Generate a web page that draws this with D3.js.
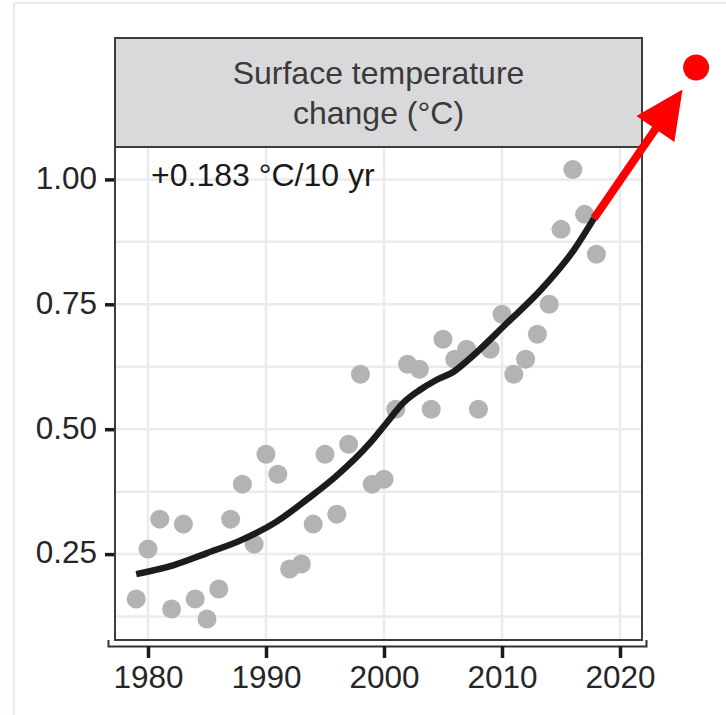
<!DOCTYPE html>
<html>
<head>
<meta charset="utf-8">
<script src="https://cdn.jsdelivr.net/npm/d3@7"></script>
<style>
  html, body { margin: 0; padding: 0; background: #fff; }
  svg { display: block; }
  text { font-family: "Liberation Sans", Arial, Helvetica, sans-serif; }
</style>
</head>
<body>
<svg id="chart" width="726" height="715"></svg>
<script>
// ---- data ----
const years = [1979,1980,1981,1982,1983,1984,1985,1986,1987,1988,1989,1990,1991,1992,1993,1994,1995,1996,1997,1998,
               1999,2000,2001,2002,2003,2004,2005,2006,2007,2008,2009,2010,2011,2012,2013,2014,2015,2016,2017,2018];
const anomalies = [0.16,0.26,0.32,0.14,0.31,0.16,0.12,0.18,0.32,0.39,0.27,0.45,0.41,0.22,0.23,0.31,0.45,0.33,0.47,0.61,
                   0.39,0.40,0.54,0.63,0.62,0.54,0.68,0.64,0.66,0.54,0.66,0.73,0.61,0.64,0.69,0.75,0.90,1.02,0.93,0.85];
const smoothYears  = [1979.0,1982.2,1985.0,1987.9,1990.9,1993.5,1995.9,1998.8,2000.2,2001.6,2003.0,2004.4,2005.9,2007.3,2010.4,2013.3,2016.1,2017.8];
const smoothValues = [0.210,0.228,0.252,0.278,0.315,0.360,0.405,0.472,0.512,0.552,0.578,0.598,0.615,0.642,0.712,0.779,0.859,0.922];
const xTicks = [1980,1990,2000,2010,2020];
const yTicks = [0.25,0.50,0.75,1.00];
const yGrid  = [0.125,0.25,0.375,0.5,0.625,0.75,0.875,1.0];
const stripLines = ["Surface temperature", "change (°C)"];
const trendLabel = "+0.183 °C/10 yr";
const arrowStart = {year: 2017.8, value: 0.922};
const arrowTip   = {year: 2025.3, value: 1.180};
const projectionDot = {year: 2026.45, value: 1.224};

// ---- layout ----
const panel = {left: 115, right: 642, top: 147, bottom: 640};
const strip = {top: 38, bottom: 147};

const svg = d3.select("#chart");

const x = d3.scaleLinear().domain([1980, 2020]).range([148, 620]);
const y = d3.scaleLinear().domain([0, 1]).range([679, 179.4]);

// outer light frame
svg.append("rect").attr("x", 14).attr("y", 3).attr("width", 760).attr("height", 760)
  .attr("fill", "none").attr("stroke", "#dce7f5").attr("stroke-width", 1.5);

// panel background
svg.append("rect").attr("x", panel.left).attr("y", panel.top)
  .attr("width", panel.right - panel.left).attr("height", panel.bottom - panel.top)
  .attr("fill", "#fff");

// grid
const grid = svg.append("g");
grid.selectAll("line.h").data(yGrid).join("line")
  .attr("x1", panel.left).attr("x2", panel.right)
  .attr("y1", d => y(d)).attr("y2", d => y(d))
  .attr("stroke", "#ebebeb").attr("stroke-width", 2.5);
grid.selectAll("line.v").data(xTicks).join("line")
  .attr("y1", panel.top).attr("y2", panel.bottom)
  .attr("x1", d => x(d)).attr("x2", d => x(d))
  .attr("stroke", "#ebebeb").attr("stroke-width", 2.5);

// points
svg.append("g").selectAll("circle").data(years.map((yr, i) => ({yr, v: anomalies[i]}))).join("circle")
  .attr("cx", d => x(d.yr)).attr("cy", d => y(d.v)).attr("r", 9.5)
  .attr("fill", "#b3b3b3");

// smooth line
const line = d3.line().x(d => x(d[0])).y(d => y(d[1])).curve(d3.curveMonotoneX);
svg.append("path").datum(smoothYears.map((yr, i) => [yr, smoothValues[i]]))
  .attr("d", line).attr("fill", "none").attr("stroke", "#1c1c1c")
  .attr("stroke-width", 6.5).attr("stroke-linecap", "butt");

// panel border
svg.append("rect").attr("x", panel.left).attr("y", panel.top)
  .attr("width", panel.right - panel.left).attr("height", panel.bottom - panel.top)
  .attr("fill", "none").attr("stroke", "#3d3d3d").attr("stroke-width", 2);

// strip
svg.append("rect").attr("x", panel.left).attr("y", strip.top)
  .attr("width", panel.right - panel.left).attr("height", strip.bottom - strip.top)
  .attr("fill", "#d9d9db").attr("stroke", "#3d3d3d").attr("stroke-width", 2);
svg.append("g").selectAll("text").data(stripLines).join("text")
  .attr("x", (panel.left + panel.right) / 2)
  .attr("y", (d, i) => 84 + i * 40)
  .attr("text-anchor", "middle").attr("font-size", 32).attr("fill", "#3a3a3a")
  .text(d => d);

// annotation
svg.append("text").attr("x", 151).attr("y", 186).attr("font-size", 32).attr("fill", "#1a1a1a")
  .text(trendLabel);

// y axis
const yAxis = svg.append("g").attr("transform", `translate(${panel.left - 1},0)`)
  .call(d3.axisLeft(y).tickValues(yTicks).tickFormat(d3.format(".2f")).tickSize(9).tickPadding(8));
yAxis.select(".domain").remove();
yAxis.selectAll(".tick line").attr("stroke", "#1a1a1a").attr("stroke-width", 3.5);
yAxis.selectAll(".tick text").attr("font-size", 31.5).attr("fill", "#262626")
  .attr("font-family", "'Liberation Sans', Arial, sans-serif").attr("dy", "0.28em");

// x axis with bracket-shaped domain
const xa = x.copy().domain([x.invert(108), x.invert(646)]).range([108, 646]);
const xAxis = svg.append("g").attr("transform", `translate(0,646)`)
  .call(d3.axisBottom(xa).tickValues(xTicks).tickFormat(d3.format("d")).tickSize(12).tickSizeOuter(-6).tickPadding(8));
xAxis.select(".domain").attr("stroke", "#333").attr("stroke-width", 2);
xAxis.selectAll(".tick line").attr("stroke", "#1a1a1a").attr("stroke-width", 3.5);
xAxis.selectAll(".tick text").attr("font-size", 31.5).attr("fill", "#262626")
  .attr("font-family", "'Liberation Sans', Arial, sans-serif");

// red projection arrow
const p0 = [x(arrowStart.year), y(arrowStart.value)];
const p1 = [x(arrowTip.year), y(arrowTip.value)];
const dx = p1[0] - p0[0], dy = p1[1] - p0[1];
const len = Math.hypot(dx, dy);
const ux = dx / len, uy = dy / len;
const headLen = 48, headHalf = 23;
const base = [p1[0] - ux * headLen, p1[1] - uy * headLen];
svg.append("line").attr("x1", p0[0]).attr("y1", p0[1])
  .attr("x2", base[0] + ux * 2).attr("y2", base[1] + uy * 2)
  .attr("stroke", "#ff0000").attr("stroke-width", 8);
svg.append("path")
  .attr("d", d3.line()([p1,
    [base[0] - uy * headHalf, base[1] + ux * headHalf],
    [base[0] + uy * headHalf, base[1] - ux * headHalf]]) + "Z")
  .attr("fill", "#ff0000");
svg.append("circle").attr("cx", x(projectionDot.year)).attr("cy", y(projectionDot.value))
  .attr("r", 13).attr("fill", "#ff0000");
</script>
</body>
</html>
